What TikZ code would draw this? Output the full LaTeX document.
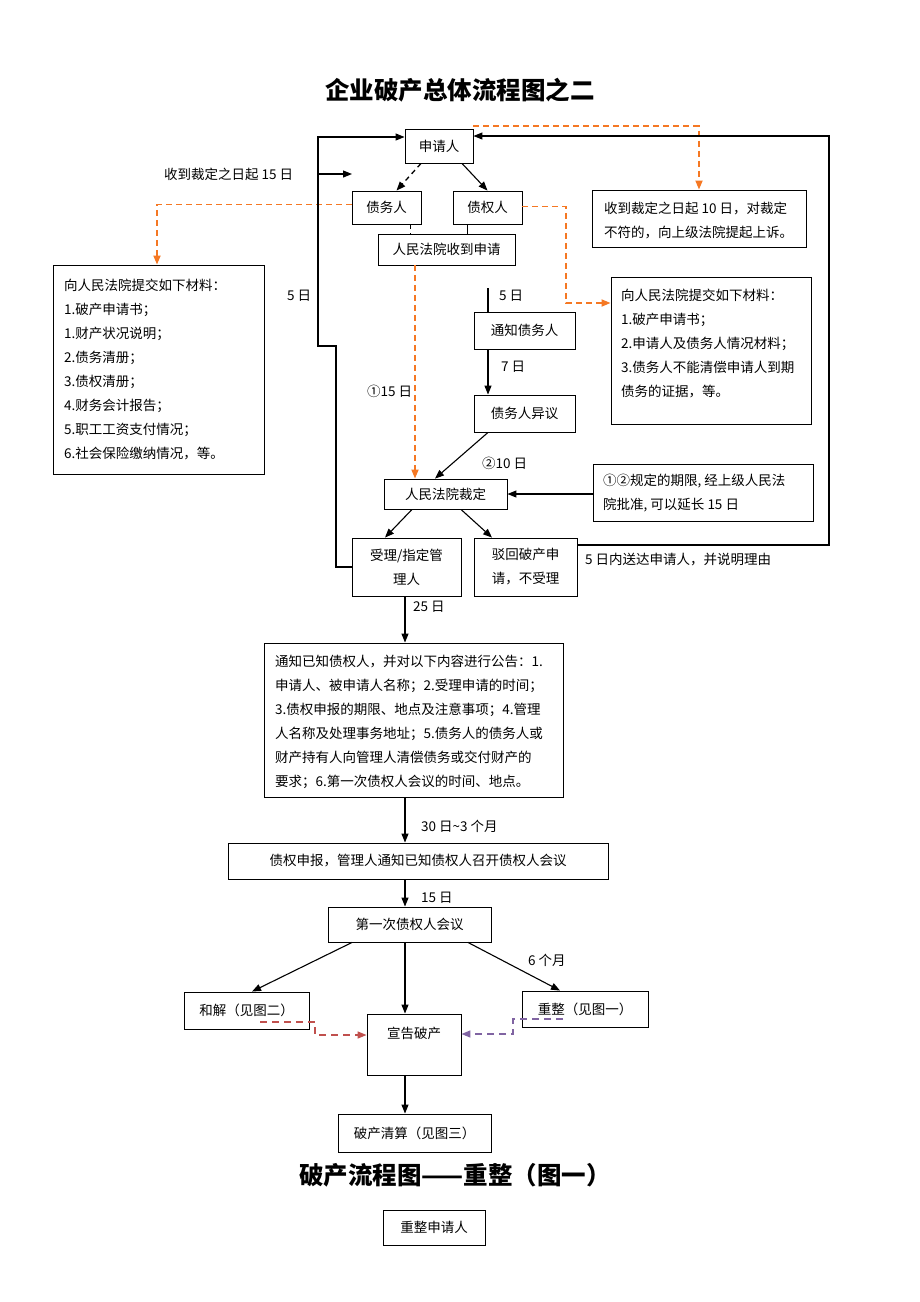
\documentclass[tikz,border=0pt]{standalone}
\usepackage{fontspec}
\setmainfont{Noto Sans CJK SC}
\usetikzlibrary{arrows.meta,calc}
\definecolor{orng}{RGB}{245,120,35}
\definecolor{redd}{RGB}{192,80,77}
\definecolor{purp}{RGB}{128,100,162}
\newcommand\myfs{\fontsize{13.5}{24}\selectfont}
\newcommand\mytitle{\fontsize{24.5}{28}\selectfont\bfseries}
\begin{document}
\begin{tikzpicture}[x=1pt,y=-1pt,
  box/.style={draw, line width=0.9pt, inner sep=0pt, font=\myfs, align=center},
  txt/.style={font=\myfs, inner sep=0pt, align=left, anchor=west},
  lbl/.style={font=\myfs, inner sep=0pt, anchor=west},
  arr/.style={line width=1.1pt, -{Triangle[length=9pt,width=7pt]}},
  ln/.style={line width=1.1pt},
  bdash/.style={line width=1.3pt, dash pattern=on 5pt off 4pt},
  odash/.style={orng, line width=1.7pt, dash pattern=on 6pt off 4pt, -{Triangle[length=9pt,width=7pt]}},
  rdash/.style={redd, line width=1.5pt, dash pattern=on 7pt off 5pt, -{Triangle[length=9pt,width=7pt]}},
  pdash/.style={purp, line width=1.5pt, dash pattern=on 7pt off 5pt, -{Triangle[length=9pt,width=7pt]}}
]
\useasboundingbox (0,0) rectangle (920,1302);

% titles
\node[font=\mytitle, inner sep=0] (t1) at (460,90) {企业破产总体流程图之二};
\node[font=\mytitle, inner sep=0] (t2) at (455,1175) {破产流程图——重整（图一）};

% boxes
\node[box, minimum width=68, minimum height=34] (sq) at (439,146) {申请人};
\node[box, minimum width=69, minimum height=33] (zwr) at (386.5,207.5) {债务人};
\node[box, minimum width=69, minimum height=33] (zqr) at (487.5,207.5) {债权人};
\node[box, minimum width=137, minimum height=31] (sd) at (446.5,249.5) {人民法院收到申请};
\node[box, minimum width=211, minimum height=209] (lbox) at (158.5,369.5) {};
\node[txt] (lboxt) at (64,369) {向人民法院提交如下材料：\\1.破产申请书；\\1.财产状况说明；\\2.债务清册；\\3.债权清册；\\4.财务会计报告；\\5.职工工资支付情况；\\6.社会保险缴纳情况，等。};
\node[box, minimum width=214, minimum height=57] (rb1) at (699,218.5) {};
\node[txt] (rb1t) at (604,220) {收到裁定之日起 10 日，对裁定\\不符的，向上级法院提起上诉。};
\node[box, minimum width=200, minimum height=147] (rb2) at (711,350.5) {};
\node[txt] (rb2t) at (621,343) {向人民法院提交如下材料：\\1.破产申请书；\\2.申请人及债务人情况材料；\\3.债务人不能清偿申请人到期\\债务的证据，等。};
\node[box, minimum width=101, minimum height=37] (tz) at (524.5,330.5) {通知债务人};
\node[box, minimum width=101, minimum height=37] (yy) at (524.5,413.5) {债务人异议};
\node[box, minimum width=123, minimum height=30] (cd) at (445.5,494) {人民法院裁定};
\node[box, minimum width=220, minimum height=57] (rb3) at (703,492.5) {};
\node[txt] (rb3t) at (603,493.5) {①②规定的期限, 经上级人民法\\院批准, 可以延长 15 日};
\node[box, minimum width=109, minimum height=58] (sl) at (406.5,567) {受理/指定管\\理人};
\node[box, minimum width=103, minimum height=58] (bh) at (525.5,567) {驳回破产申\\请，不受理};
\node[box, minimum width=299, minimum height=154] (gg) at (413.5,720) {};
\node[txt] (ggt) at (275,722) {通知已知债权人，并对以下内容进行公告：1.\\申请人、被申请人名称；2.受理申请的时间；\\3.债权申报的期限、地点及注意事项；4.管理\\人名称及处理事务地址；5.债务人的债务人或\\财产持有人向管理人清偿债务或交付财产的\\要求；6.第一次债权人会议的时间、地点。};
\node[box, minimum width=380, minimum height=36] (sb) at (418,861) {债权申报，管理人通知已知债权人召开债权人会议};
\node[box, minimum width=163, minimum height=35] (hy) at (409.5,924.5) {第一次债权人会议};
\node[box, minimum width=125, minimum height=37] (hj) at (246.5,1010.5) {和解（见图二）};
\node[box, minimum width=126, minimum height=36] (cz) at (585,1009) {重整（见图一）};
\node[box, minimum width=94, minimum height=61] (xg) at (414,1044.5) {};
\node[lbl, anchor=center] (xgt) at (414,1033) {宣告破产};
\node[box, minimum width=153, minimum height=38] (qs) at (414.5,1133) {破产清算（见图三）};
\node[box, minimum width=102, minimum height=35] (czs) at (434,1227.5) {重整申请人};

% labels
\node[lbl] (l1) at (164,174) {收到裁定之日起 15 日};
\node[lbl] (l2) at (287,296) {5 日};
\node[lbl] (l3) at (367,391) {①15 日};
\node[lbl] (l4) at (499,296) {5 日};
\node[lbl] (l5) at (501,367) {7 日};
\node[lbl] (l6) at (482,463) {②10 日};
\node[lbl] (l7) at (585,560) {5 日内送达申请人，并说明理由};
\node[lbl] (l8) at (413,607) {25 日};
\node[lbl] (l9) at (421,826) {30 日\textasciitilde 3 个月};
\node[lbl] (l10) at (421,898) {15 日};
\node[lbl] (l11) at (528,960) {6 个月};

% helper coordinates
\coordinate (vx) at (405,0);
\coordinate (ox) at (415,0);
\coordinate (brEnd) at (352,174);
\coordinate (brStart) at (318,174);
\coordinate (d5) at (488,288);
\coordinate (rStart) at (260,1022);
\coordinate (pStart) at (563,1019);

% top connectors
\draw[bdash, -{Triangle[length=9pt,width=7pt]}] ([xshift=-18pt]sq.south) -- ([xshift=10pt]zwr.north);
\draw[arr] ([xshift=23pt]sq.south) -- (zqr.north);
\draw[bdash] ([xshift=24pt]zwr.south) -- ([xshift=24pt]zwr.south |- sd.north);
\draw[ln] ([xshift=-20pt]zqr.south) -- ([xshift=-20pt]zqr.south |- sd.north);

% orange dashed
\draw[odash] ([yshift=2.5pt]sq.north east) -| (rb1.north);
\draw[odash] ([yshift=3pt]zwr.west) -| ([xshift=-1.5pt]lbox.north);
\draw[odash] ([yshift=1pt]zqr.east) -- (566,206.5) |- ([yshift=47.5pt]rb2.west);
\draw[odash] (sd.south -| ox) -- (cd.north -| ox);

% loops
\draw[arr] (sl.west) -- (336,567) -- (336,346) -- (318,346) |- ([yshift=9pt]sq.west);
\draw[arr] (brStart) -- (brEnd);
\draw[arr] ([yshift=22pt]bh.east) -- (829,545) |- ([yshift=10pt]sq.east);

% middle chain
\draw[ln] (d5) -- (d5 |- tz.north);
\draw[arr] (d5 |- tz.south) -- (d5 |- yy.north);
\draw[arr] (d5 |- yy.south) -- ([xshift=-10.5pt]cd.north);
\draw[arr] (rb3.west |- cd.east) -- (cd.east);
\draw[arr] ([xshift=-33.5pt]cd.south) -- ([xshift=-21.5pt]sl.north);
\draw[arr] ([xshift=15.5pt]cd.south) -- ([xshift=-33.5pt]bh.north);

% lower chain
\draw[arr] (sl.south -| vx) -- (gg.north -| vx);
\draw[arr] (gg.south -| vx) -- (sb.north -| vx);
\draw[arr] (sb.south -| vx) -- (hy.north -| vx);
\draw[arr] ([xshift=-57.5pt]hy.south) -- ([xshift=5.5pt]hj.north);
\draw[arr] (hy.south -| vx) -- (xg.north -| vx);
\draw[arr] ([xshift=58.5pt]hy.south) -- ([xshift=-25pt]cz.north);
\draw[arr] (xg.south -| vx) -- (qs.north -| vx);

% colored dashed
\draw[rdash] (rStart) -- (315,1022) -- (315,1035) -- ([yshift=9.5pt]xg.west);
\draw[pdash] (pStart) -- (513,1019) -- (513,1034) -- ([yshift=10.5pt]xg.east);
\end{tikzpicture}
\end{document}
